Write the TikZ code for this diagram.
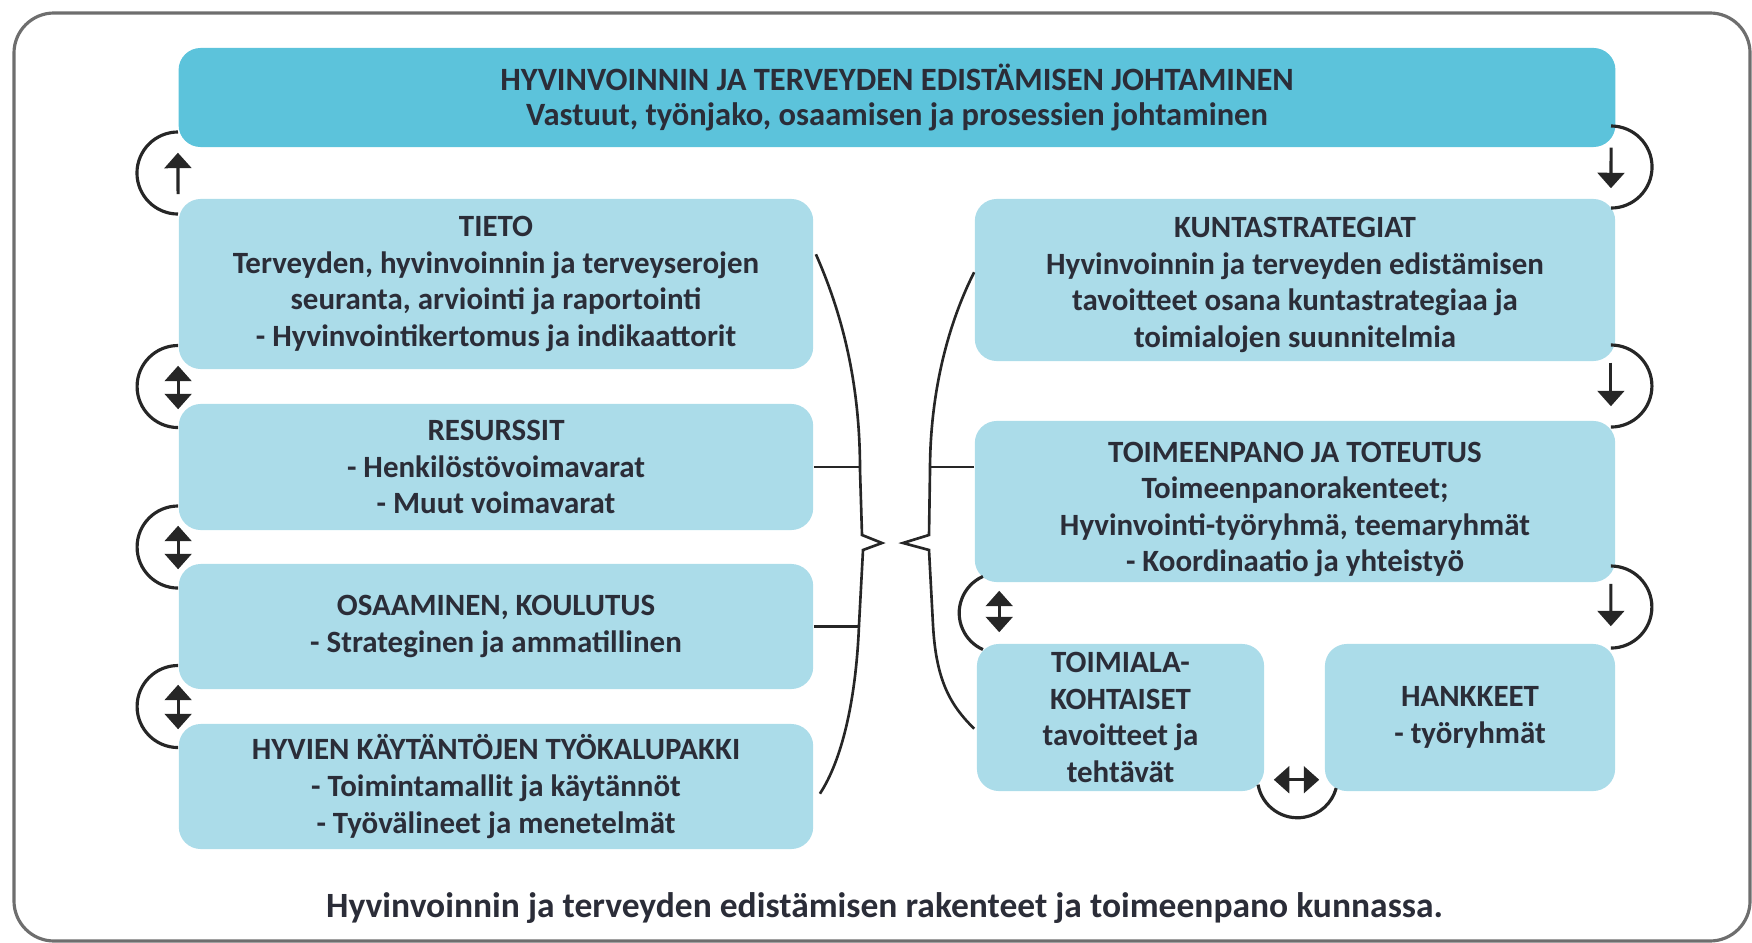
\documentclass[tikz,border=0pt]{standalone}
\usepackage{fontspec}
\setmainfont{Carlito}
\usepackage{tikz}
\usetikzlibrary{arrows.meta}
\usetikzlibrary{calc}

\definecolor{headblue}{HTML}{5CC3DB}
\definecolor{boxblue}{HTML}{ABDCE9}
\definecolor{inkgray}{HTML}{2B2D38}
\definecolor{framegray}{HTML}{6E6E6E}

\newcommand{\boxfont}{\fontsize{8.8}{10.4}\selectfont\bfseries}
\newcommand{\headfont}{\fontsize{9.25}{9.8}\selectfont\bfseries}
\newcommand{\capfont}{\fontsize{10.1}{12}\selectfont\bfseries}

\tikzset{
% Define standard arrow tip
>={Triangle[length=4.4pt, width=7.6pt]},
box/.style={rectangle, rounded corners=0.22cm, fill=boxblue, text=inkgray,
  align=center, inner sep=0, font=\boxfont},
headbox/.style={box, fill=headblue, font=\headfont},
loop/.style={line width=0.9pt, black!85},
brace/.style={line width=0.75pt, black!85}
}

\begin{document}
\begin{tikzpicture}[x=0.01cm, y=-0.01cm]
  \useasboundingbox (0,0) rectangle (1752,943);
  \draw[framegray, line width=0.9pt, rounded corners=0.4cm] (14,13) rectangle (1750,941);

  \node[headbox, minimum width=14.36cm, minimum height=0.99cm] (top) at (897,97.5)
    {HYVINVOINNIN JA TERVEYDEN EDISTÄMISEN JOHTAMINEN\\
     Vastuut, työnjako, osaamisen ja prosessien johtaminen};

  % left
  \node[box, minimum width=6.34cm, minimum height=1.70cm] (tieto) at (496,284)
    {TIETO\\ Terveyden, hyvinvoinnin ja terveyserojen\\
     seuranta, arviointi ja raportointi\\ - Hyvinvointikertomus ja indikaattorit};
  \node[box, minimum width=6.34cm, minimum height=1.26cm] (resurssit) at (496,467)
    {RESURSSIT\\ - Henkilöstövoimavarat\\ - Muut voimavarat};
  \node[box, minimum width=6.34cm, minimum height=1.25cm] (osaaminen) at (496,626.5)
    {OSAAMINEN, KOULUTUS\\ - Strateginen ja ammatillinen};
  \node[box, minimum width=6.34cm, minimum height=1.25cm] (hyvien) at (496,786.5)
    {HYVIEN KÄYTÄNTÖJEN TYÖKALUPAKKI\\ - Toimintamallit ja käytännöt\\
     - Työvälineet ja menetelmät};

  % right
  \node[box, minimum width=6.40cm, minimum height=1.62cm] (kunta) at (1295,280)
    {\rule{0pt}{8.6pt}KUNTASTRATEGIAT\\ Hyvinvoinnin ja terveyden edistämisen\\
     tavoitteet osana kuntastrategiaa ja\\ toimialojen suunnitelmia};
  \node[box, minimum width=6.40cm, minimum height=1.61cm] (toimeenpano) at (1295,501.5)
    {\rule{0pt}{10.3pt}TOIMEENPANO JA TOTEUTUS\\ Toimeenpanorakenteet;\\
     Hyvinvointi-työryhmä, teemaryhmät\\ - Koordinaatio ja yhteistyö};
  \node[box, minimum width=2.87cm, minimum height=1.47cm] (toimiala) at (1120.5,717.5)
    {TOIMIALA-\\ KOHTAISET\\ tavoitteet ja\\ tehtävät};
  \node[box, minimum width=2.90cm, minimum height=1.47cm] (hankkeet) at (1470,717.5)
    {HANKKEET\\ - työryhmät};

  \node[text=inkgray, font=\capfont] (caption) at (884.5,908)
    {Hyvinvoinnin ja terveyden edistämisen rakenteet ja toimeenpano kunnassa.};

  % left loops
  \draw[loop] ($(top.south west)!0.5!(tieto.north west)+(0,-41)$)
    arc[start angle=90, end angle=270, radius=0.41cm];
  \draw[loop, ->, shorten <=0.04cm, shorten >=0.05cm] (tieto.north west) -- (top.south west);
  \draw[loop] ($(tieto.south west)!0.5!(resurssit.north west)+(0,-41)$)
    arc[start angle=90, end angle=270, radius=0.41cm];
  \draw[loop, <->, shorten <=-0.04cm, shorten >=-0.06cm] (tieto.south west) -- (resurssit.north west);
  \draw[loop] ($(resurssit.south west)!0.5!(osaaminen.north west)+(0,-41)$)
    arc[start angle=90, end angle=270, radius=0.41cm];
  \draw[loop, <->, shorten <=-0.05cm, shorten >=-0.06cm] (resurssit.south west) -- (osaaminen.north west);
  \draw[loop] ($(osaaminen.south west)!0.5!(hyvien.north west)+(0,-41)$)
    arc[start angle=90, end angle=270, radius=0.41cm];
  \draw[loop, <->, shorten <=-0.05cm, shorten >=-0.06cm] (osaaminen.south west) -- (hyvien.north west);

  % right loops
  \draw[loop] ($(top.south east)!0.5!(kunta.north east)+(-5,-47)$)
    arc[start angle=90, end angle=-90, radius=0.41cm];
  \draw[loop, ->, shorten >=0.10cm] ([xshift=-0.05cm]top.south east) -- ([xshift=-0.05cm]kunta.north east);
  \draw[loop] ($(kunta.south east)!0.5!(toimeenpano.north east)+(-5,-46)$)
    arc[start angle=90, end angle=-90, radius=0.41cm];
  \draw[loop, ->, shorten <=0.01cm, shorten >=0.14cm] ([xshift=-0.05cm]kunta.south east) -- ([xshift=-0.05cm]toimeenpano.north east);
  \draw[loop] ($(toimeenpano.south east)!0.5!(hankkeet.north east)+(-5,-47)$)
    arc[start angle=90, end angle=-90, radius=0.41cm];
  \draw[loop, ->, shorten <=0.01cm, shorten >=0.17cm] ([xshift=-0.05cm]toimeenpano.south east) -- ([xshift=-0.05cm]hankkeet.north east);

  \coordinate (midlink) at ($(toimiala.north west |- toimeenpano.south)!0.5!(toimiala.north west)+(23,0)$);
  \draw[loop] ($(midlink)+(114:0.40cm)$) arc[start angle=114, end angle=246, radius=0.40cm];
  \draw[loop, <->, shorten <=0.08cm, shorten >=0.11cm]
    ($(toimiala.north west |- toimeenpano.south)+(23,0)$) -- ($(toimiala.north west)+(23,0)$);
  \coordinate (botlink) at ($(toimiala.south east)!0.5!(hankkeet.south west)+(3,-14)$);
  \draw[loop] ($(botlink)+(190:0.40cm)$) arc[start angle=190, end angle=345, radius=0.40cm];
  \draw[loop, <->, shorten <=0.09cm, shorten >=0.05cm]
    ([yshift=0.12cm]toimiala.south east) -- ([yshift=0.12cm]hankkeet.south west);

  % braces
  \draw[brace] ([yshift=-0.56cm, xshift=0.02cm]tieto.north east)
    .. controls (845,320) and (860,390) .. (860,470) -- (862,535) -- (882,543) -- (863,550)
    -- (859,625) .. controls (856,700) and (842,760) .. ([yshift=0.56cm, xshift=0.06cm]hyvien.south east);
  \draw[brace] (resurssit.east) -- ++(47,0);
  \draw[brace] (osaaminen.east) -- ++(44,0);
  \draw[brace] ([yshift=-0.74cm]kunta.north west)
    .. controls (945,330) and (930,400) .. (930,470) -- (929,535) -- (903,543) -- (929,550)
    -- (933,625) .. controls (936,680) and (950,705) .. ([yshift=0.63cm, xshift=-0.02cm]toimiala.south west);
  \draw[brace] ([yshift=0.345cm]toimeenpano.west) -- ++(-45,0);
\end{tikzpicture}
\end{document}
